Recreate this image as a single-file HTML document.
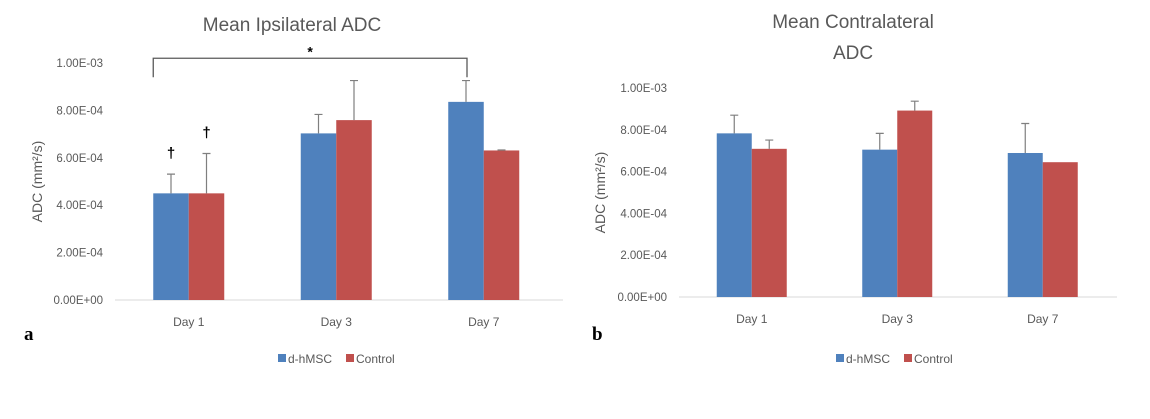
<!DOCTYPE html>
<html><head><meta charset="utf-8"><style>
html,body{margin:0;padding:0;background:#fff;width:1150px;height:419px;overflow:hidden}
svg{display:block;font-family:"Liberation Sans",sans-serif}
</style></head><body>
<svg id="s" width="1150" height="419" viewBox="0 0 1150 419"></svg>
<script>
const categories = ["Day 1","Day 3","Day 7"];
const seriesNames = ["d-hMSC","Control"];
const ticks = [0,2e-4,4e-4,6e-4,8e-4,1e-3];
const tickLabels = ["0.00E+00","2.00E-04","4.00E-04","6.00E-04","8.00E-04","1.00E-03"];
const ipsiHMSC = [4.5e-4,7.03e-4,8.36e-4];
const ipsiHMSCErr = [0.81e-4,0.8e-4,0.9e-4];
const ipsiCtrl = [4.5e-4,7.59e-4,6.31e-4];
const ipsiCtrlErr = [1.68e-4,1.67e-4,0.02e-4];
const contraHMSC = [7.83e-4,7.05e-4,6.89e-4];
const contraHMSCErr = [0.87e-4,0.78e-4,1.41e-4];
const contraCtrl = [7.09e-4,8.92e-4,6.45e-4];
const contraCtrlErr = [0.42e-4,0.45e-4,0];
const colors = ["#4f81bd","#c0504d"];
const NS="http://www.w3.org/2000/svg";
const svg=document.getElementById('s');
function mk(tag,attrs,parent,text){const e=document.createElementNS(NS,tag);for(const k in attrs)e.setAttribute(k,attrs[k]);if(text!==undefined)e.textContent=text;(parent||svg).appendChild(e);return e;}

function chart(cfg){
  const g=mk('g',{});
  
  
  const y=v=>cfg.y0-(v/1e-3)*(cfg.y0-cfg.y1);
  const catW=(cfg.x1-cfg.x0)/categories.length;
  const cx=i=>cfg.x0+catW*(i+0.5);
  const bw=cfg.bw;
  cfg.title.forEach((t,i)=>{const e=mk('text',{x:cfg.titleX,y:cfg.titleY+i*31,'text-anchor':'middle','font-size':19,fill:'#595959'},g,t);
    
    });
  ticks.forEach((t,i)=>{const e=mk('text',{x:cfg.labX,y:y(t)+4,'text-anchor':'end','font-size':11.5,fill:'#595959'},g,tickLabels[i]);
    
    });
  const ax=mk('line',{x1:cfg.axL,x2:cfg.axR,y1:cfg.y0,y2:cfg.y0,stroke:'#d9d9d9','stroke-width':1},g);
  
  
  const yt=mk('text',{transform:`translate(${cfg.ytX},${(cfg.y0+cfg.y1)/2}) rotate(-90)`,'text-anchor':'middle','font-size':14,fill:'#595959'},g,'ADC (mm²/s)');
  
  
  categories.forEach((c,i)=>{const e=mk('text',{x:cx(i),y:cfg.y0+26,'text-anchor':'middle','font-size':12,fill:'#595959'},g,c);
    
    });
  [[cfg.a,cfg.ae],[cfg.b,cfg.be]].forEach(([vals,errs],s)=>{
    vals.forEach((v,i)=>{
      const x=cx(i)-bw+s*bw;
      const r=mk('rect',{x:x,y:y(v),width:bw,height:cfg.y0-y(v),fill:colors[s]},g);
      
      
      if(errs[i]>0){const xm=x+bw/2,yt2=y(v+errs[i]);
        const l=mk('path',{d:`M${xm},${y(v)}V${yt2}M${xm-4},${yt2}H${xm+4}`,stroke:'#7f7f7f','stroke-width':1.2,fill:'none'},g);
        
        }
    });
  });
  seriesNames.forEach((n,s)=>{const lx=cfg.legX+s*68;
    const r=mk('rect',{x:lx,y:354,width:8,height:8,fill:colors[s]},g);
    
    
    const t=mk('text',{x:lx+10,y:363,'font-size':12,fill:'#595959'},g,n);
    
    });
  const L=mk('text',{x:cfg.letX,y:340,'font-size':19,'font-weight':'bold','font-family':'Liberation Serif,serif',fill:'#000'},g,cfg.letter);
  
  
  return {y,cx,bw,g};
}
const A=chart({name:'ipsilateral-chart',x0:115,x1:557.5,axL:115,axR:563,y0:300,y1:63,bw:35.5,labX:103,ytX:42,titleX:292,titleY:31,title:['Mean Ipsilateral ADC'],
  a:ipsiHMSC,ae:ipsiHMSCErr,b:ipsiCtrl,be:ipsiCtrlErr,legX:278,letX:24,letter:'a'});
const B=chart({name:'contralateral-chart',x0:679,x1:1115.5,axL:679,axR:1117,y0:297,y1:88,bw:35,labX:667,ytX:605,titleX:853,titleY:28,title:['Mean Contralateral','ADC'],
  a:contraHMSC,ae:contraHMSCErr,b:contraCtrl,be:contraCtrlErr,legX:836,letX:592,letter:'b'});
const bx1=A.cx(0)-A.bw, bx2=A.cx(2)-A.bw/2+1, by=A.y(1.02e-3);
const br=mk('path',{d:`M${bx1},${A.y(0.94e-3)}V${by}H${bx2}V${A.y(0.94e-3)}`,stroke:'#595959','stroke-width':1.3,fill:'none'});


const st=mk('text',{x:(bx1+bx2)/2,y:by-2,'text-anchor':'middle','font-size':14,'font-weight':'bold',fill:'#000'},svg,'*');


[[0,0,6.0e-4],[0,1,6.85e-4]].forEach(([i,s,v])=>{
  const d=mk('text',{x:A.cx(i)-A.bw/2+s*A.bw,y:A.y(v),'text-anchor':'middle','font-size':15,'font-weight':'bold',fill:'#000'},svg,'†');
  
  
});
</script>
</body></html>
